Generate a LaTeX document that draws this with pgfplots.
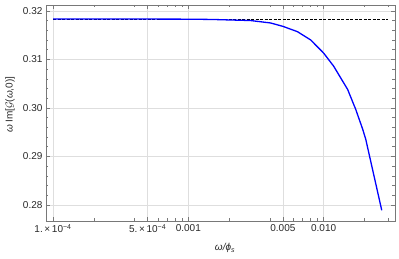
\documentclass[border=0pt]{standalone}
\usepackage{pgfplots}
\pgfplotsset{compat=1.18}
\usepackage{fontspec}
\setmainfont{Liberation Sans}
\definecolor{frame}{RGB}{120,120,120}
\definecolor{lbl}{RGB}{40,40,40}
\definecolor{gridc}{RGB}{222,222,222}
\begin{document}
\begin{tikzpicture}
\begin{axis}[
  scale only axis,
  width=349pt, height=216pt,
  xmode=log,
  xmin=8.87e-5, xmax=0.0337,
  ymin=0.2767, ymax=0.3212,
  axis line style={frame, line width=0.6pt},
  every tick/.style={frame, line width=0.5pt},
  tick align=inside,
  major tick length=4pt,
  minor tick length=2.5pt,
  xtick={1e-4,5e-4,0.001,0.005,0.01},
  xticklabels={1.\,×\,10\textsuperscript{−4},5.\,×\,10\textsuperscript{−4},0.001,0.005,0.010},
  minor xtick={2e-4,4e-4,6e-4,7e-4,8e-4,9e-4,0.002,0.004,0.006,0.007,0.008,0.009,0.02,0.03},
  ytick={0.28,0.29,0.30,0.31,0.32},
  minor y tick num=4,
  yticklabel style={/pgf/number format/fixed,/pgf/number format/fixed zerofill,/pgf/number format/precision=2,/pgf/number format/assume math mode=true},
  ticklabel style={font=\fontsize{10}{12}\selectfont, text=lbl},
  xticklabel pos=bottom, yticklabel pos=left,
  xtick pos=both, ytick pos=both,
  grid=major,
  major grid style={gridc, line width=0.6pt},
  minor grid style={draw=none},
  xlabel={\textit{ω/ϕ}\textsubscript{\textit{s}}},
  ylabel={\textit{ω}\,Im[$\mathcal{G}$(\textit{ω},0)]},
  label style={font=\fontsize{10}{12}\selectfont, text=lbl},
  xlabel style={at={(axis description cs:0.513,-0.125)}, anchor=center},
  ylabel style={at={(axis description cs:-0.103,0.54)}, anchor=center, rotate=0},
  clip=false,
]
\addplot[black, dashed, line width=0.7pt, dash pattern=on 3pt off 1.5pt] coordinates {(1e-4,0.31831) (0.03,0.31831)};
\addplot[blue, line width=1.3pt] coordinates {
(1e-4,0.31831) (2e-4,0.31831) (5e-4,0.31830) (0.001,0.31828) (0.0015,0.31822)
(0.002,0.31812) (0.00288,0.3180) (0.00405,0.3175) (0.005,0.3168) (0.00641,0.3157)
(0.00802,0.3140) (0.01,0.3113) (0.01186,0.3086) (0.01505,0.3038) (0.01727,0.2997)
(0.01945,0.2956) (0.0205,0.2935) (0.0269,0.2789)};
\end{axis}
\pgfresetboundingbox
\path ([shift={(-46pt,-38pt)}]current axis.south west) rectangle ([shift={(4pt,5pt)}]current axis.north east);
\end{tikzpicture}
\end{document}
